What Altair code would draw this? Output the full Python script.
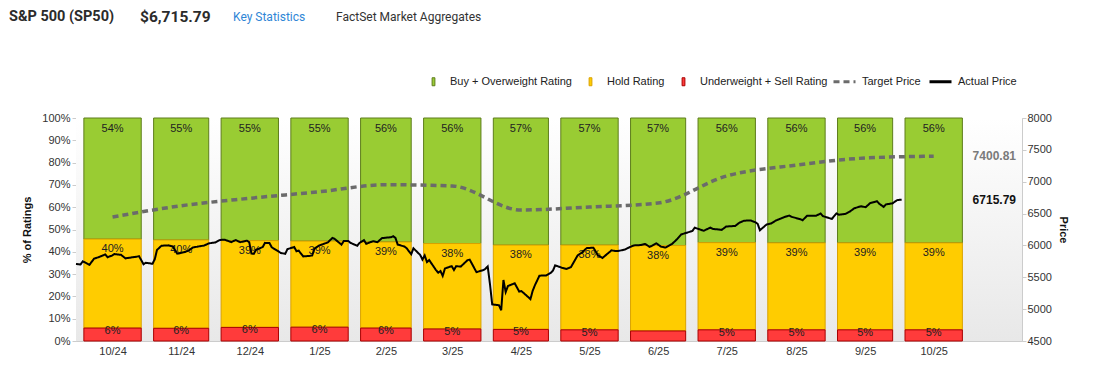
import altair as alt
import pandas as pd

# ---------------- data ----------------
months = ["2024-10", "2024-11", "2024-12", "2025-01", "2025-02", "2025-03", "2025-04",
          "2025-05", "2025-06", "2025-07", "2025-08", "2025-09", "2025-10"]
buy = [54.3, 54.7, 55.0, 55.2, 55.6, 56.3, 57.0, 57.0, 57.2, 55.9, 56.0, 56.0, 56.0]
hold = [39.9, 39.6, 38.9, 38.6, 38.6, 38.3, 37.8, 38.0, 38.3, 39.1, 39.0, 39.0, 39.0]
sell = [5.8, 5.7, 6.1, 6.2, 5.8, 5.4, 5.2, 5.0, 4.5, 5.0, 5.0, 5.0, 5.0]
buy_lbl = ["54%", "55%", "55%", "55%", "56%", "56%", "57%", "57%", "57%", "56%", "56%", "56%", "56%"]
hold_lbl = ["40%", "40%", "39%", "39%", "39%", "38%", "38%", "38%", "38%", "39%", "39%", "39%", "39%"]
sell_lbl = ["6%", "6%", "6%", "6%", "6%", "5%", "5%", "5%", "", "5%", "5%", "5%", "5%"]
target = [6446, 6623, 6740, 6843, 6953, 6933, 6556, 6603, 6666, 7090, 7262, 7372, 7400.81]

price_dates = [
    "2024-10-01", "2024-10-03", "2024-10-04", "2024-10-07", "2024-10-09", "2024-10-11", "2024-10-14",
    "2024-10-15", "2024-10-17", "2024-10-18", "2024-10-21", "2024-10-23", "2024-10-25", "2024-10-28",
    "2024-10-29", "2024-10-31", "2024-11-01", "2024-11-04", "2024-11-05", "2024-11-06", "2024-11-08",
    "2024-11-11", "2024-11-13", "2024-11-15", "2024-11-18", "2024-11-20", "2024-11-22", "2024-11-25",
    "2024-11-27", "2024-11-29", "2024-12-02", "2024-12-04", "2024-12-06", "2024-12-09", "2024-12-11",
    "2024-12-13", "2024-12-16", "2024-12-17", "2024-12-18", "2024-12-19", "2024-12-20", "2024-12-23",
    "2024-12-24", "2024-12-26", "2024-12-27", "2024-12-30", "2024-12-31", "2025-01-02", "2025-01-03",
    "2025-01-06", "2025-01-07", "2025-01-08", "2025-01-10", "2025-01-13", "2025-01-14", "2025-01-15",
    "2025-01-17", "2025-01-21", "2025-01-23", "2025-01-24", "2025-01-27", "2025-01-28", "2025-01-30",
    "2025-01-31", "2025-02-03", "2025-02-04", "2025-02-06", "2025-02-07", "2025-02-10", "2025-02-12",
    "2025-02-14", "2025-02-18", "2025-02-19", "2025-02-20", "2025-02-21", "2025-02-24", "2025-02-25",
    "2025-02-27", "2025-02-28", "2025-03-03", "2025-03-04", "2025-03-05", "2025-03-06", "2025-03-07",
    "2025-03-10", "2025-03-11", "2025-03-12", "2025-03-13", "2025-03-14", "2025-03-17", "2025-03-18",
    "2025-03-19", "2025-03-21", "2025-03-24", "2025-03-25", "2025-03-26", "2025-03-28", "2025-03-31",
    "2025-04-01", "2025-04-02", "2025-04-03", "2025-04-04", "2025-04-07", "2025-04-08", "2025-04-09",
    "2025-04-10", "2025-04-11", "2025-04-14", "2025-04-16", "2025-04-17", "2025-04-21", "2025-04-22",
    "2025-04-23", "2025-04-25", "2025-04-28", "2025-04-30", "2025-05-01", "2025-05-02", "2025-05-05",
    "2025-05-07", "2025-05-09", "2025-05-12", "2025-05-14", "2025-05-16", "2025-05-19", "2025-05-21",
    "2025-05-23", "2025-05-27", "2025-05-29", "2025-05-30", "2025-06-02", "2025-06-04", "2025-06-06",
    "2025-06-09", "2025-06-11", "2025-06-13", "2025-06-16", "2025-06-18", "2025-06-20", "2025-06-23",
    "2025-06-25", "2025-06-27", "2025-06-30", "2025-07-02", "2025-07-03", "2025-07-07", "2025-07-10",
    "2025-07-11", "2025-07-15", "2025-07-17", "2025-07-21", "2025-07-23", "2025-07-25", "2025-07-28",
    "2025-07-30", "2025-07-31", "2025-08-01", "2025-08-04", "2025-08-06", "2025-08-08", "2025-08-12",
    "2025-08-14", "2025-08-15", "2025-08-19", "2025-08-20", "2025-08-22", "2025-08-26", "2025-08-28",
    "2025-08-29", "2025-09-02", "2025-09-04", "2025-09-05", "2025-09-08", "2025-09-10", "2025-09-12",
    "2025-09-15", "2025-09-17", "2025-09-19", "2025-09-22", "2025-09-23", "2025-09-25", "2025-09-26",
    "2025-09-29", "2025-09-30", "2025-10-01", "2025-10-02", "2025-10-03"]
price_values = [
    5709, 5700, 5751, 5696, 5792, 5815, 5859, 5815, 5841, 5864, 5853, 5797, 5808, 5823,
    5832, 5705, 5728, 5712, 5782, 5929, 5995, 6001, 5985, 5870, 5893, 5917, 5969, 5987,
    5999, 6032, 6047, 6086, 6090, 6053, 6084, 6051, 6074, 6051, 5872, 5867, 5930, 5975,
    6040, 6037, 5971, 5907, 5882, 5869, 5942, 5975, 5909, 5918, 5827, 5836, 5843, 5950,
    5997, 6049, 6119, 6101, 6012, 6068, 6071, 6041, 5994, 6038, 6083, 6026, 6066, 6052,
    6115, 6129, 6144, 6118, 6013, 5983, 5955, 5861, 5955, 5850, 5778, 5843, 5739, 5770,
    5614, 5572, 5599, 5522, 5639, 5675, 5615, 5675, 5667, 5768, 5777, 5712, 5581, 5612,
    5633, 5671, 5397, 5074, 5062, 4982, 5457, 5268, 5363, 5406, 5276, 5283, 5158, 5288,
    5376, 5525, 5529, 5569, 5604, 5687, 5650, 5631, 5660, 5844, 5892, 5958, 5964, 5845,
    5803, 5922, 5912, 5912, 5936, 5971, 6000, 6006, 6022, 5977, 6033, 5981, 5967, 6025,
    6092, 6173, 6205, 6227, 6279, 6230, 6280, 6260, 6244, 6297, 6306, 6359, 6389, 6390,
    6363, 6339, 6238, 6330, 6345, 6389, 6446, 6469, 6450, 6411, 6396, 6467, 6466, 6502,
    6460, 6416, 6502, 6482, 6495, 6532, 6584, 6615, 6600, 6664, 6694, 6656, 6605, 6644,
    6661, 6688, 6711, 6715, 6715.79]

ratings = ["Buy + Overweight Rating", "Hold Rating", "Underweight + Sell Rating"]
fills = ["#99cc33", "#ffcc00", "#ff3b3b"]
strokes = ["#5e7d1c", "#d9a200", "#a80000"]
header_texts = ["S&P 500 (SP50)", "$6,715.79", "Key Statistics", "FactSet Market Aggregates"]
end_labels = ["7400.81", "6715.79"]
end_values = [7400.81, 6715.79]

# ---------------- frames ----------------
starts = pd.to_datetime([m + "-01" for m in months], utc=True)
bar_start = starts + pd.Timedelta(days=3.5)
bar_end = (starts + pd.offsets.MonthBegin(1)) - pd.Timedelta(days=2)
mid = bar_start + (bar_end - bar_start) / 2

def ms(ts):
    return int(ts.value // 10**6)

rows = []
for i, m in enumerate(months):
    segs = [(ratings[0], sell[i] + hold[i], 100.0, buy_lbl[i]),
            (ratings[1], sell[i], sell[i] + hold[i], hold_lbl[i]),
            (ratings[2], 0.0, sell[i], sell_lbl[i])]
    for r, lo, hi, lab in segs:
        rows.append({"start": ms(bar_start[i]), "end": ms(bar_end[i]), "mid": ms(mid[i]),
                     "lo": lo, "hi": hi, "rating": r, "label": lab})
bars_df = pd.DataFrame(rows)

target_df = pd.DataFrame({"date": [ms(t) for t in mid], "value": target,
                          "series": "Target Price"})
price_df = pd.DataFrame({"date": [ms(pd.Timestamp(d, tz="UTC")) for d in price_dates],
                         "value": price_values, "series": "Actual Price"})
x_end = ms(pd.Timestamp("2025-11-25 12:00", tz="UTC"))
x_start = ms(pd.Timestamp("2024-10-01", tz="UTC"))
end_df = pd.DataFrame({"date": [x_end, x_end], "value": end_values, "label": end_labels})

W, H = 946, 223
FONT = "Liberation Sans"
RECT_SYMBOL = "M-0.35,-1H0.35V1H-0.35Z"

xscale = alt.Scale(type="utc", domain=[x_start, x_end], nice=False)
xaxis = alt.Axis(values=[ms(t) for t in mid], labelExpr="utcFormat(datum.value, '%-m/%y')",
                 title=None, grid=False, ticks=False, labelPadding=4, labelFontSize=11,
                 labelColor="#333", domainColor="#cccccc", labelFont=FONT)

pct_y_axis = alt.Axis(values=list(range(0, 101, 10)), labelExpr="datum.value + '%'",
                      title="% of Ratings", titleFontSize=11, titleFontWeight="bold",
                      titleColor="#111", titlePadding=9, labelFontSize=11, labelColor="#333",
                      domainColor="#cccccc", tickColor="#cccccc", tickSize=4, labelPadding=2,
                      grid=False, labelFont=FONT, titleFont=FONT)
pct_scale = alt.Scale(domain=[0, 100], nice=False)

rating_leg = alt.Legend(orient="none", legendX=352, legendY=-42, direction="horizontal",
                        title=None, symbolType=RECT_SYMBOL, symbolSize=64, labelFontSize=11,
                        labelFont=FONT, labelColor="#222", columnPadding=13, labelOffset=11,
                        symbolStrokeWidth=1, padding=0)

grad = alt.LinearGradient(gradient="linear",
                          stops=[alt.GradientStop(color="#ffffff", offset=0),
                                 alt.GradientStop(color="#e8e8e8", offset=1)],
                          x1=0, x2=0, y1=0, y2=1)
bg = alt.Chart(pd.DataFrame({"k": [0]})).mark_rect(color=grad).encode(
    x=alt.value(0), x2=alt.value(W), y=alt.value(0), y2=alt.value(H))

base_bars = alt.Chart(bars_df)
rects = base_bars.mark_rect(strokeWidth=1).encode(
    x=alt.X("start:T", scale=xscale, axis=xaxis),
    x2="end:T",
    y=alt.Y("lo:Q", scale=pct_scale, axis=pct_y_axis),
    y2="hi:Q",
    color=alt.Color("rating:N", scale=alt.Scale(domain=ratings, range=fills),
                    legend=rating_leg),
    stroke=alt.Stroke("rating:N", scale=alt.Scale(domain=ratings, range=strokes),
                      legend=None),
)

def seg_text(rating, dy):
    return base_bars.transform_filter(alt.datum.rating == rating).mark_text(
        dy=dy, baseline="middle", fontSize=11, font=FONT, color="#222"
    ).encode(
        x=alt.X("mid:T", scale=xscale, axis=xaxis),
        y=alt.Y("hi:Q", scale=pct_scale, axis=pct_y_axis),
        text="label:N",
    )

pct_layer = alt.layer(rects, seg_text(ratings[0], 11), seg_text(ratings[1], 10),
                      seg_text(ratings[2], 3))

price_scale = alt.Scale(domain=[4500, 8000], nice=False, zero=False)
price_axis = alt.Axis(orient="right", values=list(range(4500, 8001, 500)), format="d",
                      title="Price", titleFontSize=11, titleFontWeight="bold",
                      titleColor="#111", titlePadding=6, labelFontSize=11, labelColor="#333",
                      domainColor="#cccccc", tickColor="#cccccc", tickSize=4,
                      labelPadding=1, grid=False, labelFont=FONT, titleFont=FONT)
series = ["Target Price", "Actual Price"]
line_leg = alt.Legend(orient="none", legendX=756, legendY=-49, direction="horizontal",
                      title=None, symbolType="stroke", symbolSize=484, symbolStrokeWidth=3,
                      labelFontSize=11, labelFont=FONT, labelColor="#222", columnPadding=2,
                      labelOffset=5, padding=0)
line_color = alt.Color("series:N", scale=alt.Scale(domain=series, range=["#6b6b6b", "#000000"]),
                       legend=line_leg)
line_dash = alt.StrokeDash("series:N", scale=alt.Scale(domain=series, range=[[6, 4], [1, 0]]),
                           legend=line_leg)

target_line = alt.Chart(target_df).mark_line(strokeWidth=3.5, interpolate="monotone").encode(
    x=alt.X("date:T", scale=xscale, axis=xaxis),
    y=alt.Y("value:Q", scale=price_scale, axis=price_axis),
    color=line_color, strokeDash=line_dash,
)
price_line = alt.Chart(price_df).mark_line(strokeWidth=2).encode(
    x=alt.X("date:T", scale=xscale, axis=xaxis),
    y=alt.Y("value:Q", scale=price_scale, axis=price_axis),
    color=line_color, strokeDash=line_dash,
)
end_base = alt.Chart(end_df)
end_t1 = end_base.transform_filter(alt.datum.label == end_labels[0]).mark_text(
    align="right", dx=-6, fontSize=12, fontWeight="bold", font=FONT, color="#7a7a7a"
).encode(x=alt.X("date:T", scale=xscale, axis=xaxis),
         y=alt.Y("value:Q", scale=price_scale, axis=price_axis), text="label:N")
end_t2 = end_base.transform_filter(alt.datum.label == end_labels[1]).mark_text(
    align="right", dx=-6, fontSize=12, fontWeight="bold", font=FONT, color="#111"
).encode(x=alt.X("date:T", scale=xscale, axis=xaxis),
         y=alt.Y("value:Q", scale=price_scale, axis=price_axis), text="label:N")

lines_layer = alt.layer(target_line, price_line, end_t1, end_t2)

def header(i, xpix, size, weight, color, font):
    return alt.Chart(pd.DataFrame({"t": [header_texts[i]]})).mark_text(
        align="left", baseline="middle", fontSize=size, fontWeight=weight, color=color,
        font=font
    ).encode(x=alt.value(xpix), y=alt.value(-101), text="t:N")

header_layer = alt.layer(
    header(0, -67, 14.5, "bold", "#2b2b2b", "Roboto"),
    header(1, 64, 15.5, "bold", "#2b2b2b", "Roboto"),
    header(2, 157, 12, "normal", "#2f86d6", "Roboto"),
    header(3, 260, 12, "normal", "#333333", "Roboto"),
)

chart = alt.layer(bg, pct_layer, lines_layer, header_layer).resolve_scale(
    y="independent", color="independent", stroke="independent", strokeDash="independent"
).properties(
    width=W, height=H,
    autosize=alt.AutoSizeParams(type="none"),
    padding={"left": 68, "top": 110, "right": 58, "bottom": 34},
    background="#ffffff",
).configure_view(stroke="#d9d9d9").configure_legend(symbolType=RECT_SYMBOL)

chart.save("out.html", embed_options={"renderer": "svg", "actions": False})
